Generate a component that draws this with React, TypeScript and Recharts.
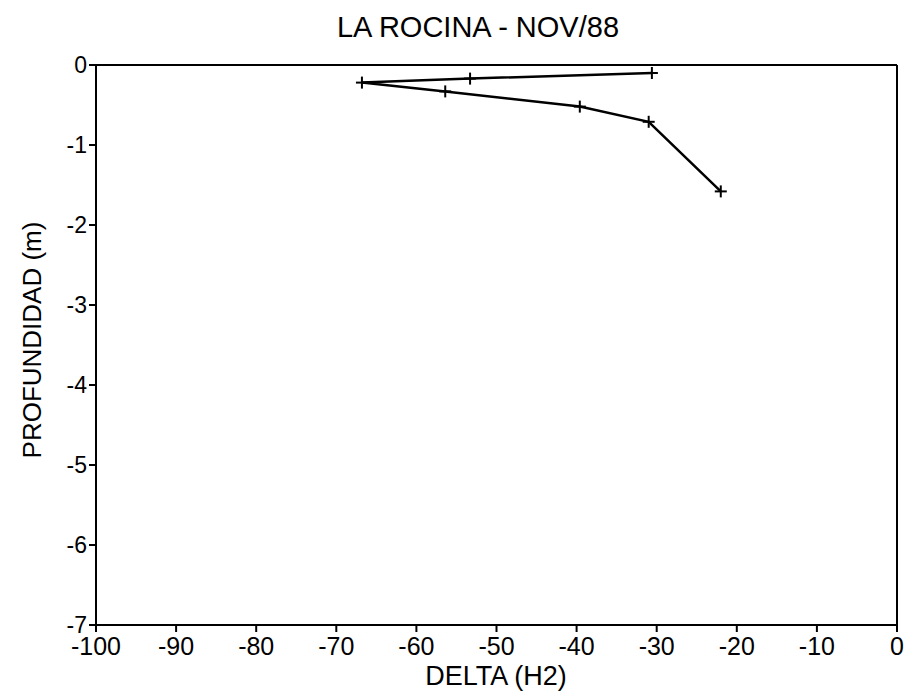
import React from "react";
import {
  ScatterChart,
  Scatter,
  XAxis,
  YAxis,
  ReferenceLine,
} from "recharts";

const deltaH2 = [-30.6, -53.3, -66.8, -56.4, -39.6, -31.0, -22.0];
const depth = [-0.1, -0.17, -0.22, -0.33, -0.52, -0.71, -1.58];
const xTicks = [-100, -90, -80, -70, -60, -50, -40, -30, -20, -10, 0];
const yTicks = [0, -1, -2, -3, -4, -5, -6, -7];

const data = deltaH2.map((d, i) => ({ x: d, y: depth[i] }));

const FONT = "'Liberation Sans', Arial, Helvetica, sans-serif";

const Cross = (props: any) => {
  const { cx, cy } = props;
  if (cx == null || cy == null) return null;
  return (
    <g stroke="#000" strokeWidth={2}>
      <line x1={cx - 6} y1={cy} x2={cx + 6} y2={cy} />
      <line x1={cx} y1={cy - 6} x2={cx} y2={cy + 6} />
    </g>
  );
};

export default function App() {
  return (
    <div
      style={{
        position: "absolute",
        left: 0,
        top: 0,
        width: 911,
        height: 697,
        background: "#fff",
        fontFamily: FONT,
      }}
    >
      <div
        style={{
          position: "absolute",
          left: 478,
          top: 11,
          transform: "translateX(-50%)",
          fontSize: 29,
          color: "#000",
          whiteSpace: "nowrap",
        }}
      >
        LA ROCINA - NOV/88
      </div>
      <div
        style={{
          position: "absolute",
          left: 32,
          top: 340,
          transform: "translate(-50%, -50%) rotate(-90deg)",
          fontSize: 26,
          whiteSpace: "nowrap",
          color: "#000",
        }}
      >
        PROFUNDIDAD (m)
      </div>
      <div
        style={{
          position: "absolute",
          left: 496,
          top: 661,
          transform: "translateX(-50%)",
          fontSize: 27,
          color: "#000",
          whiteSpace: "nowrap",
        }}
      >
        DELTA (H2)
      </div>
      <ScatterChart
        width={911}
        height={697}
        margin={{ top: 65, right: 14, bottom: 0, left: 0 }}
        style={{ position: "absolute", left: 0, top: 0 }}
      >
        <XAxis
          type="number"
          dataKey="x"
          domain={[-100, 0]}
          ticks={xTicks}
          interval={0}
          height={72}
          axisLine={{ stroke: "#000", strokeWidth: 2 }}
          tickLine={{ stroke: "#000", strokeWidth: 2 }}
          tickSize={7}
          tick={{ fill: "#000", fontSize: 25, fontFamily: FONT, dy: 3 }}
          allowDataOverflow
        />
        <YAxis
          type="number"
          dataKey="y"
          domain={[-7, 0]}
          ticks={yTicks}
          interval={0}
          width={96}
          axisLine={{ stroke: "#000", strokeWidth: 2 }}
          tickLine={{ stroke: "#000", strokeWidth: 2 }}
          tickSize={7}
          tick={{ fill: "#000", fontSize: 23, fontFamily: FONT }}
          allowDataOverflow
        />
        <ReferenceLine y={0} stroke="#000" strokeWidth={2} />
        <ReferenceLine x={0} stroke="#000" strokeWidth={2} />
        <Scatter
          data={data}
          line={{ stroke: "#000", strokeWidth: 2.5 }}
          shape={<Cross />}
          isAnimationActive={false}
        />
      </ScatterChart>
    </div>
  );
}
